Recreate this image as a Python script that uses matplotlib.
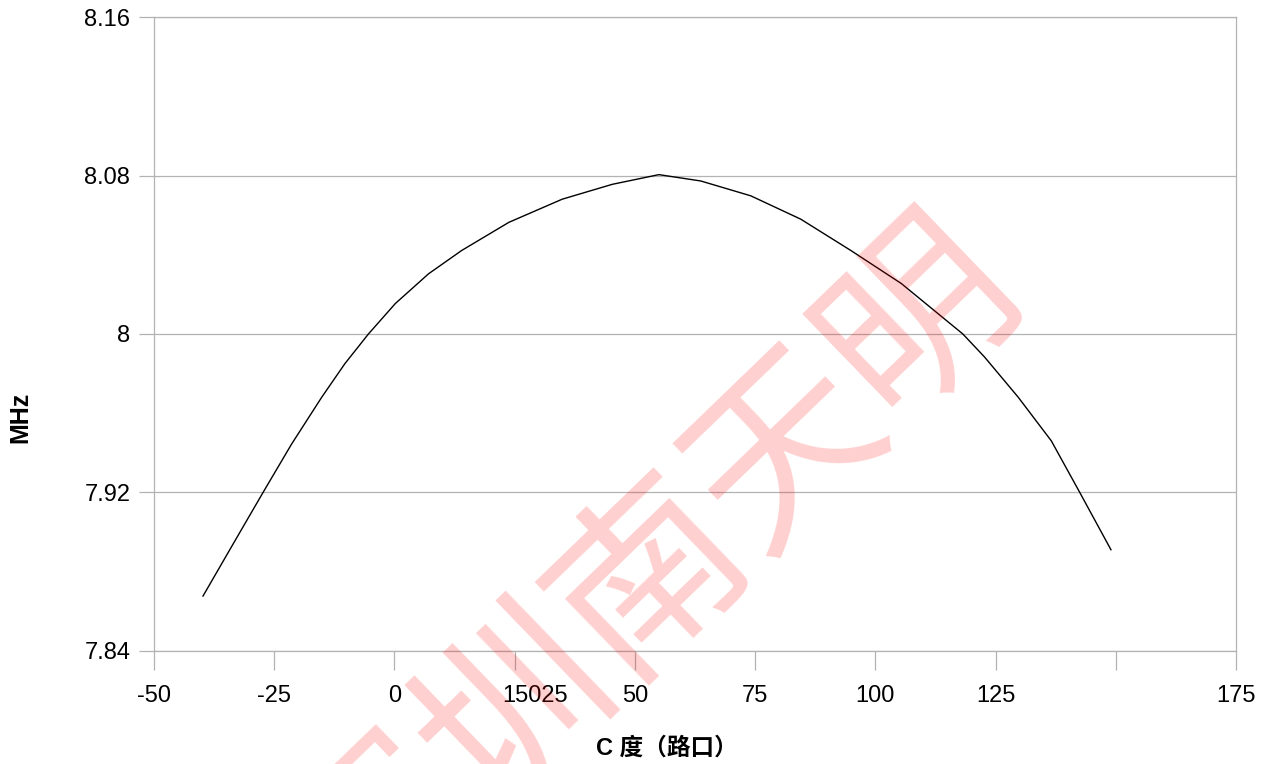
import matplotlib
matplotlib.use("Agg")
import matplotlib.pyplot as plt
from matplotlib.transforms import ScaledTranslation

plt.rcParams['font.family'] = ['Liberation Sans', 'Noto Sans CJK SC', 'DejaVu Sans']

# values
temp_c = [-39.8, -33.9, -27.3, -21.4, -15.1, -10.3, -5.4, 0.2, 7.1, 14.0, 23.8,
          34.9, 45.3, 55.0, 63.7, 74.1, 84.5, 94.9, 105.4, 118.2, 122.7, 129.7,
          136.6, 142.5, 149.0]
freq_mhz = [7.8676, 7.8924, 7.9200, 7.9443, 7.9681, 7.9850, 8.0000, 8.0154, 8.0304,
            8.0422, 8.0564, 8.0681, 8.0756, 8.0805, 8.0773, 8.0698, 8.0580, 8.0422,
            8.0255, 8.0000, 7.9884, 7.9681, 7.9460, 7.9200, 7.8910]

x_ticks = [-50, -25, 0, 25, 50, 75, 100, 125, 150, 175]
x_tick_labels = ["-50", "-25", "0", "15025", "50", "75", "100", "125", "", "175"]
y_ticks = [7.84, 7.92, 8.0, 8.08, 8.16]
y_tick_labels = ["7.84", "7.92", "8", "8.08", "8.16"]

x_label = "C 度（路口）"
y_label = "MHz"
watermark = "深圳南天明"

GRID = "#b3b3b3"

fig = plt.figure(figsize=(12.66, 7.64), dpi=100)
ax = fig.add_axes([0.1216, 0.1483, 0.8547, 0.8291])

ax.plot(temp_c, freq_mhz, color="black", linewidth=1.0, zorder=3)

ax.set_xlim(-50, 175)
ax.set_ylim(7.84, 8.16)
ax.set_xticks(x_ticks)
ax.set_xticklabels(x_tick_labels)
ax.set_yticks(y_ticks)
ax.set_yticklabels(y_tick_labels)

ax.grid(axis="y", color=GRID, linewidth=0.9)
ax.set_axisbelow(True)
for side in ["left", "right", "bottom", "top"]:
    ax.spines[side].set_color(GRID)
    ax.spines[side].set_linewidth(0.9)

ax.tick_params(axis="x", length=14, width=0.9, color=GRID, pad=11, labelsize=17)
ax.tick_params(axis="y", length=11, width=0.9, color=GRID, pad=6, labelsize=17)

# the odd "15025" label sits a bit right of its tick
lab = ax.get_xticklabels()[3]
lab.set_transform(lab.get_transform() + ScaledTranslation(0.2, 0, fig.dpi_scale_trans))

fig.text(667 / 1266, 1 - 748 / 764, x_label, ha="center", va="center",
         fontsize=17, fontweight="bold")
fig.text(20 / 1266, 1 - 417 / 764, y_label, ha="center", va="center",
         rotation=90, fontsize=18, fontweight="bold")

# faint diagonal watermark
fig.text(652 / 1266, 1 - 580 / 764, watermark, ha="center", va="center",
         rotation=44, rotation_mode="anchor", fontsize=135,
         family=["Noto Sans CJK SC"], color="red", alpha=0.19, zorder=10)

fig.savefig("out.png", dpi=100)
